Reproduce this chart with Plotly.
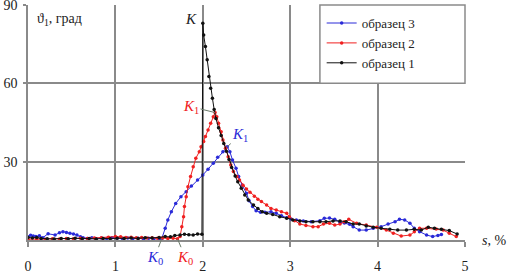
import plotly.graph_objects as go

# образец 3 (blue)
x3 = [0.00, 0.03, 0.06, 0.09, 0.13, 0.17, 0.23, 0.31, 0.36, 0.40, 0.44, 0.48, 0.52, 0.56, 0.60, 0.63,
      0.68, 0.73, 0.78, 0.84, 0.90, 0.96, 1.02, 1.08, 1.14, 1.20, 1.26, 1.32, 1.38, 1.44, 1.50, 1.53,
      1.57, 1.60, 1.64, 1.69, 1.75, 1.81, 1.87, 1.94, 2.00, 2.06, 2.12, 2.17, 2.23, 2.28, 2.31, 2.34,
      2.38, 2.41, 2.45, 2.50, 2.53, 2.57, 2.61, 2.66, 2.71, 2.78, 2.84, 2.90, 2.96, 3.01, 3.07, 3.15,
      3.24, 3.34, 3.39, 3.45, 3.51, 3.57, 3.62, 3.68, 3.72, 3.79, 3.87, 3.95, 4.04, 4.12, 4.20, 4.25,
      4.31, 4.37, 4.42, 4.48, 4.56, 4.63, 4.69, 4.73]
y3 = [1.2, 1.8, 1.5, 1.3, 1.6, 0.9, 2.4, 1.9, 2.8, 3.2, 2.9, 2.6, 2.3, 1.9, 1.2, 0.9,
      0.6, 0.9, 0.5, 0.8, 0.6, 0.9, 0.7, 0.6, 0.8, 0.6, 0.7, 0.5, 0.7, 0.5, 0.6, 0.5,
      4.5, 7.7, 10.8, 14.0, 16.6, 18.5, 20.7, 23.0, 24.9, 27.1, 29.4, 31.7, 33.8, 35.7, 33.8, 30.6,
      27.5, 24.3, 21.0, 17.9, 15.0, 12.8, 11.2, 10.6, 10.6, 10.8, 10.2, 9.3, 8.5, 8.0, 7.7, 7.3,
      7.0, 7.4, 8.3, 8.4, 7.9, 6.8, 6.5, 6.0, 5.1, 3.8, 3.8, 4.5, 5.1, 6.1, 7.0, 7.9,
      7.7, 6.4, 4.5, 3.2, 1.9, 1.3, 1.7, 2.1]

# образец 2 (red)
x2 = [0.00, 0.10, 0.20, 0.28, 0.36, 0.44, 0.52, 0.60, 0.68, 0.76, 0.84, 0.92, 1.00, 1.06, 1.12, 1.18,
      1.24, 1.30, 1.36, 1.42, 1.48, 1.54, 1.60, 1.66, 1.71, 1.74, 1.76, 1.78, 1.79, 1.81, 1.83, 1.86,
      1.89, 1.92, 1.96, 1.98, 2.01, 2.03, 2.06, 2.09, 2.12, 2.14, 2.16, 2.18, 2.21, 2.23, 2.26, 2.29,
      2.32, 2.35, 2.39, 2.42, 2.46, 2.50, 2.54, 2.59, 2.63, 2.67, 2.73, 2.78, 2.84, 2.90, 2.96, 2.99,
      3.05, 3.11, 3.18, 3.26, 3.32, 3.38, 3.45, 3.51, 3.57, 3.62, 3.67, 3.76, 3.87, 3.99, 4.10, 4.18,
      4.27, 4.37, 4.42, 4.48, 4.56, 4.67, 4.75, 4.82, 4.90]
y2 = [0.3, 0.4, 0.3, 0.5, 0.4, 0.6, 0.5, 0.7, 0.6, 0.8, 0.9, 1.1, 1.3, 1.2, 1.0, 1.1,
      0.9, 1.0, 0.8, 0.9, 0.7, 0.8, 0.6, 0.7, 0.5, 1.3, 5.1, 8.9, 12.8, 16.6, 20.4, 24.3,
      28.1, 31.3, 33.8, 35.7, 37.7, 39.6, 42.1, 44.7, 47.2, 48.8, 47.2, 44.7, 41.5, 38.3, 35.1, 31.9,
      28.7, 26.2, 24.3, 23.0, 21.0, 19.5, 18.3, 16.8, 15.6, 14.7, 13.4, 12.1, 11.5, 10.8, 10.2, 8.9,
      7.4, 6.1, 5.6, 5.1, 5.1, 6.1, 6.4, 5.7, 6.1, 7.0, 7.9, 6.4, 5.7, 4.9, 3.8, 2.6,
      1.5, 1.9, 3.2, 4.5, 4.5, 4.2, 3.8, 2.6, 1.3]

# образец 1 (black)
x1 = [0.00, 0.05, 0.10, 0.15, 0.22, 0.30, 0.38, 0.46, 0.54, 0.62, 0.70, 0.78, 0.86, 0.94, 1.02, 1.10,
      1.18, 1.26, 1.34, 1.42, 1.50, 1.57, 1.63, 1.68, 1.74, 1.79, 1.84, 1.89, 1.94, 1.99, 2.00, 2.01,
      2.03, 2.05, 2.07, 2.09, 2.11, 2.13, 2.15, 2.18, 2.21, 2.24, 2.27, 2.30, 2.33, 2.37, 2.40, 2.44,
      2.48, 2.52, 2.58, 2.63, 2.68, 2.73, 2.80, 2.88, 2.96, 3.03, 3.11, 3.18, 3.26, 3.34, 3.41, 3.49,
      3.57, 3.64, 3.72, 3.79, 3.87, 3.95, 4.04, 4.14, 4.23, 4.33, 4.42, 4.50, 4.58, 4.65, 4.73, 4.82,
      4.91]
y1 = [1.0, 0.8, 1.0, 0.6, 0.5, 0.4, 0.6, 0.5, 0.7, 0.5, 0.6, 0.4, 0.6, 0.5, 0.7, 0.6,
      0.8, 0.6, 0.9, 0.8, 1.0, 1.3, 1.2, 1.7, 1.9, 2.2, 2.0, 1.9, 2.3, 2.2, 83.0, 78.5,
      74.1, 69.0, 62.6, 58.1, 54.3, 50.0, 46.5, 43.0, 40.0, 37.0, 34.0, 30.8, 27.8, 24.5, 22.3, 19.8,
      17.2, 15.3, 13.4, 12.1, 10.8, 10.2, 9.8, 8.9, 8.3, 7.7, 7.3, 7.0, 7.0, 7.0, 7.0, 7.3,
      7.3, 7.0, 6.1, 6.1, 5.4, 4.9, 4.5, 4.1, 3.8, 3.8, 4.1, 3.8, 4.9, 4.5, 4.1, 3.6,
      2.3]

x_ticks = [0, 1, 2, 3, 4, 5]
y_ticks = [30, 60, 90]

SERIF = "'Times New Roman', 'Liberation Serif', 'DejaVu Serif', serif"
GRID = "#8a8a8a"
BLUE = "#2a2ad8"
RED = "#f02020"
BLACK = "#111111"
LEAD = "#6a7a6a"

fig = go.Figure()
for name, xs, ys, col in [("образец 3", x3, y3, BLUE),
                          ("образец 2", x2, y2, RED),
                          ("образец 1", x1, y1, BLACK)]:
    fig.add_trace(go.Scatter(x=xs, y=ys, name=name, mode="lines+markers",
                             line=dict(color=col, width=1),
                             marker=dict(color=col, size=3.5)))

fig.update_layout(
    width=508, height=273,
    margin=dict(l=28, r=43, t=5, b=33, autoexpand=False),
    paper_bgcolor="white", plot_bgcolor="white",
    font=dict(family=SERIF, size=14, color="#222"),
    showlegend=True,
    legend=dict(x=0.672, y=0.987, xanchor="left", yanchor="top",
                bgcolor="rgba(0,0,0,0)", borderwidth=0,
                font=dict(family=SERIF, size=13, color="#222"),
                tracegroupgap=0, itemwidth=30),
    xaxis=dict(range=[0, 5], tickvals=x_ticks, showgrid=True, gridcolor=GRID, gridwidth=1.5,
               showline=True, linecolor=GRID, linewidth=1.5, zeroline=False, automargin=False,
               ticks="outside", ticklen=5, tickcolor=GRID, tickwidth=1.5,
               tickfont=dict(family=SERIF, size=14, color="#222"), ticklabelstandoff=7),
    yaxis=dict(range=[0, 90], tickvals=y_ticks, showgrid=True, gridcolor=GRID, gridwidth=1.5,
               showline=True, linecolor=GRID, linewidth=1.5, zeroline=False, automargin=False,
               ticks="outside", ticklen=3, tickcolor=GRID, tickwidth=1.5,
               ticklabeloverflow="allow",
               tickfont=dict(family=SERIF, size=14, color="#222"), ticklabelstandoff=3),
)

# hide the grid line at the right edge (the reference has no right border)
fig.add_shape(type="line", xref="x", yref="paper", x0=5, x1=5, y0=0.006, y1=1.0,
              line=dict(color="white", width=3), layer="between")
# legend frame
fig.add_shape(type="rect", xref="paper", yref="paper", x0=0.668, x1=1.0, y0=0.667, y1=1.0,
              fillcolor="white", line=dict(color=GRID, width=1.5), layer="above")

# peaks / starts from data
i1 = y1.index(max(y1))
i2 = y2.index(max(y2))
i3 = y3.index(max(y3))
s3 = 31  # start of rise, образец 3
s2 = 24  # start of rise, образец 2

ann = []
ann.append(dict(xref="paper", yref="paper", x=0.016, y=0.985, xanchor="left", yanchor="top",
                text="ϑ<sub>1</sub>, град", showarrow=False,
                font=dict(family=SERIF, size=14, color="#222")))
ann.append(dict(x=x1[i1], y=y1[i1], text="<i>K</i>", showarrow=False, xshift=-12, yshift=4,
                font=dict(family=SERIF, size=15, color="#222")))
ann.append(dict(x=x2[i2], y=y2[i2], text="<i>K</i><sub>1</sub>", showarrow=True, arrowhead=0,
                arrowwidth=1, arrowcolor=LEAD, ax=-24, ay=-6, standoff=0,
                font=dict(family=SERIF, size=15, color=RED)))
ann.append(dict(x=x3[i3], y=y3[i3], text="<i>K</i><sub>1</sub>", showarrow=True, arrowhead=0,
                arrowwidth=1, arrowcolor=LEAD, ax=13, ay=-12, standoff=0,
                font=dict(family=SERIF, size=15, color=BLUE)))
ann.append(dict(x=x3[s3], y=y3[s3], text="<i>K</i><sub>0</sub>", showarrow=True, arrowhead=0,
                arrowwidth=1, arrowcolor=LEAD, ax=-7, ay=19, standoff=0,
                font=dict(family=SERIF, size=15, color=BLUE)))
ann.append(dict(x=x2[s2], y=y2[s2], text="<i>K</i><sub>0</sub>", showarrow=True, arrowhead=0,
                arrowwidth=1, arrowcolor=LEAD, ax=8, ay=19, standoff=0,
                font=dict(family=SERIF, size=15, color=RED)))
ann.append(dict(xref="paper", yref="paper", x=1.035, y=0.0, xanchor="left", yanchor="middle",
                text="<i>s</i>, %", showarrow=False,
                font=dict(family=SERIF, size=14, color="#222")))
fig.update_layout(annotations=ann)

fig.write_html("out.html", config={"displayModeBar": False},
               post_script="document.body.style.margin='0';")
